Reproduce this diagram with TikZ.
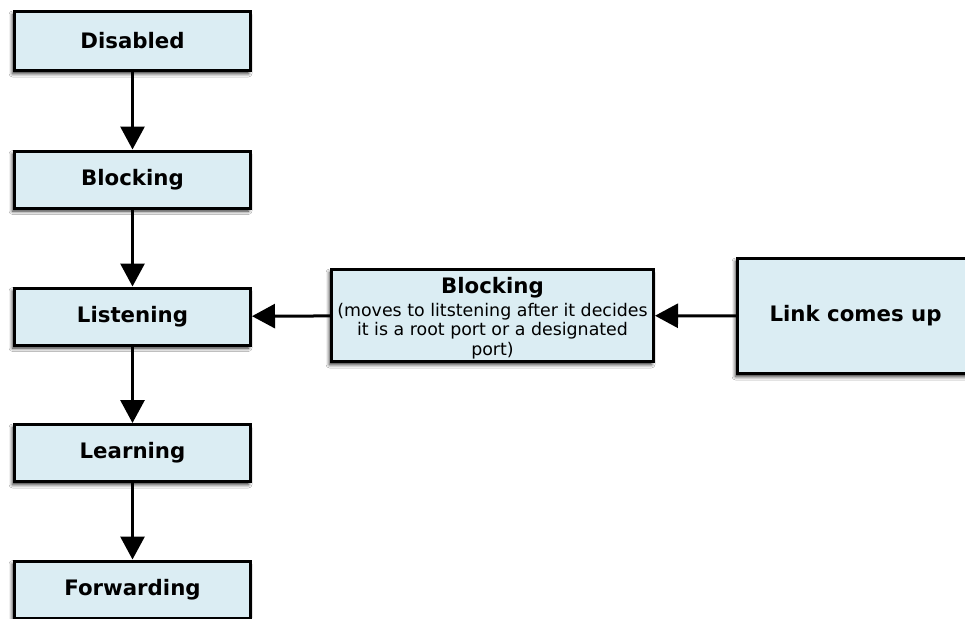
\documentclass[tikz,border=0pt]{standalone}
\usepackage{fontspec}
\setmainfont{DejaVu Sans}
\usetikzlibrary{arrows.meta,shadows.blur}
\definecolor{boxfill}{RGB}{219,237,243}
\tikzset{
  stbox/.style={draw=black, line width=3pt, fill=boxfill, minimum width=236pt,
    minimum height=57pt, inner sep=2pt, align=center,
    font=\bfseries\fontsize{21.3}{25}\selectfont,
    blur shadow={shadow xshift=-2pt, shadow yshift=-3pt, shadow blur radius=3.5pt, shadow opacity=85}},
  conn/.style={line width=3pt, -{Triangle[length=23pt,width=24pt]}}
}
\begin{document}
\begin{tikzpicture}[x=1pt,y=-1pt]
\useasboundingbox (0,0) rectangle (965,618);
\clip (0,0) rectangle (965,618);
\fill[white] (0,0) rectangle (965,618);
\node[stbox, minimum height=59pt] (dis) at (132.5,41) {Disabled};
\node[stbox] (blk) at (132.5,179.5) {Blocking};
\node[stbox] (lis) at (132.5,316.5) {Listening};
\node[stbox] (lea) at (132.5,453) {Learning};
\node[stbox] (fwd) at (132.5,589.5) {Forwarding};
\node[stbox, minimum width=322pt, minimum height=92pt, inner sep=0pt,
      font=\mdseries\fontsize{17.4}{19.5}\selectfont] (mid) at (492.5,315.5)
  {\rule{0pt}{22pt}{\bfseries\fontsize{21.3}{25}\selectfont Blocking}\\[3pt](moves to litstening after it decides\\it is a root port or a designated\\port)};
\node[stbox, minimum height=115pt] (link) at (855.5,316) {Link comes up};
\draw[conn] (dis) -- (blk);
\draw[conn] (blk) -- (lis);
\draw[conn] (lis) -- (lea);
\draw[conn] (lea) -- (fwd);
\draw[conn] (mid) -- (lis);
\draw[conn] (link) -- (mid);
\end{tikzpicture}
\end{document}
